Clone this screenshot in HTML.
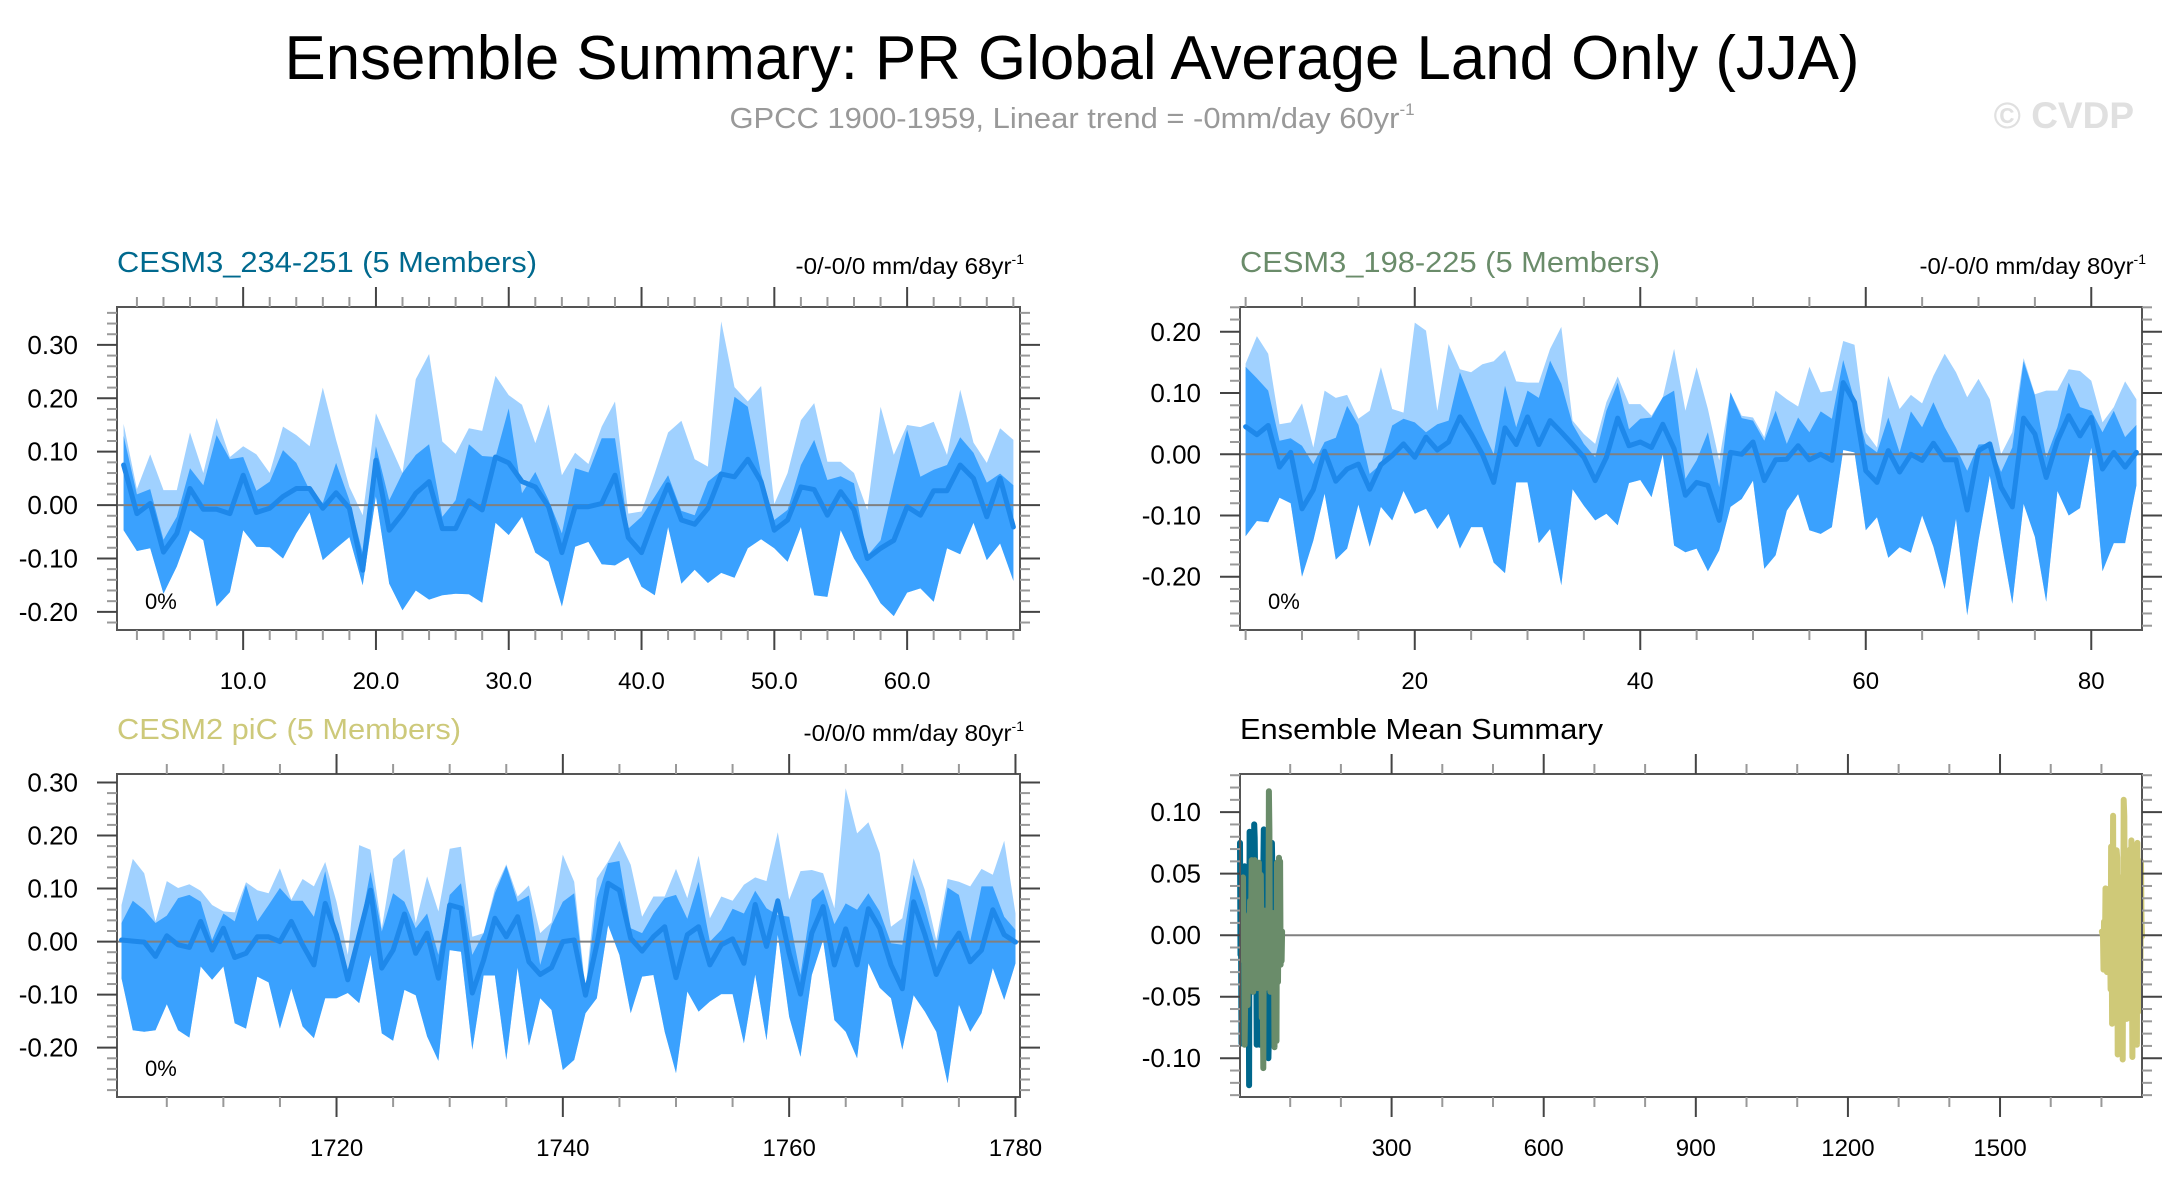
<!DOCTYPE html>
<html><head><meta charset="utf-8"><title>Ensemble Summary</title>
<style>html,body{margin:0;padding:0;background:#fff}svg{display:block}text{font-family:"Liberation Sans",Arial,sans-serif}</style>
</head><body>
<svg id="chart" xmlns="http://www.w3.org/2000/svg" width="2184" height="1189" viewBox="0 0 2184 1189">
<rect x="0" y="0" width="2184" height="1189" fill="#fff"/>
<text x="1072" y="79" font-size="62" text-anchor="middle" textLength="1575" lengthAdjust="spacingAndGlyphs" fill="#000">Ensemble Summary: PR Global Average Land Only (JJA)</text>
<text x="1072" y="128" font-size="29" text-anchor="middle" fill="#999"><tspan textLength="670" lengthAdjust="spacingAndGlyphs">GPCC 1900-1959, Linear trend = -0mm/day 60yr</tspan><tspan font-size="17" dy="-13">-1</tspan></text>
<text x="2134" y="128" font-size="37" font-weight="bold" text-anchor="end" fill="#e0e0e0">© CVDP</text>
<g id="plots"></g>
</svg>
<script>
// ---- Panel 1: CESM3_234-251 (x = 1..68) ----
const p1Mean=[.075,-.016,.003,-.088,-.053,.031,-.008,-.008,-.016,.056,-.014,-.006,.016,.031,.031,-.006,.023,-.006,-.122,.084,-.047,-.016,.022,.044,-.044,-.044,.008,-.009,.09,.079,.044,.034,-.003,-.089,-.003,-.003,.003,.056,-.061,-.089,-.022,.038,-.028,-.036,-.006,.058,.053,.086,.044,-.047,-.028,.034,.029,-.019,.025,-.009,-.1,-.081,-.066,-.003,-.019,.027,.027,.075,.05,-.022,.05,-.041];
const p1Hi=[.152,.03,.095,.028,.028,.136,.06,.163,.09,.11,.095,.06,.147,.131,.11,.22,.122,.034,-.019,.172,.116,.06,.236,.283,.119,.096,.144,.139,.242,.206,.188,.116,.189,.056,.098,.077,.147,.194,-.016,-.012,.06,.136,.158,.086,.072,.344,.221,.194,.223,.002,.06,.159,.191,.081,.081,.06,-.009,.184,.094,.15,.146,.156,.094,.216,.117,.079,.144,.122];
const p1Hi2=[.13,.02,.03,-.065,-.022,.069,.037,.131,.086,.09,.027,.044,.103,.079,.028,.004,.079,.009,-.09,.11,.009,.06,.094,.114,-.022,.009,.114,.092,.09,.181,.022,.062,.009,-.053,.069,.061,.125,.125,-.044,-.022,.016,.056,-.011,-.019,.044,.064,.203,.184,.059,-.028,-.009,.075,.122,.047,.054,.041,-.095,-.066,.041,.141,.053,.066,.075,.127,.098,.042,.059,.037];
const p1Lo=[-.047,-.086,-.081,-.166,-.115,-.047,-.066,-.19,-.163,-.047,-.078,-.079,-.1,-.053,-.014,-.103,-.081,-.06,-.15,.016,-.147,-.197,-.16,-.177,-.169,-.166,-.167,-.183,-.033,-.056,-.022,-.089,-.106,-.19,-.078,-.069,-.111,-.113,-.098,-.153,-.169,-.041,-.147,-.121,-.146,-.127,-.136,-.081,-.064,-.081,-.106,-.041,-.169,-.172,-.047,-.1,-.14,-.184,-.208,-.164,-.156,-.181,-.081,-.092,-.033,-.103,-.072,-.142];
// ---- Panel 2: CESM3_198-225 (x = 5..84) ----
const p2Mean=[.045,.032,.047,-.021,.003,-.089,-.058,.005,-.044,-.024,-.016,-.057,-.017,-.002,.017,-.005,.028,.007,.02,.061,.033,0,-.046,.043,.016,.061,.016,.055,.036,.016,-.005,-.043,-.005,.059,.014,.02,.011,.049,.009,-.067,-.046,-.051,-.108,.003,0,.02,-.043,-.009,-.008,.014,-.009,0,-.01,.117,.085,-.027,-.046,.006,-.029,0,-.01,.018,-.009,-.009,-.091,.006,.017,-.054,-.086,.059,.033,-.038,.022,.063,.03,.06,-.024,.003,-.021,.003];
const p2Hi=[.148,.193,.164,.049,.052,.083,.011,.104,.092,.097,.058,.071,.142,.074,.068,.215,.202,.071,.18,.139,.134,.147,.152,.17,.119,.117,.117,.172,.208,.055,.033,.017,.085,.127,.082,.082,.063,.093,.172,.071,.142,.074,-.01,.101,.063,.06,.028,.104,.09,.078,.143,.101,.104,.185,.179,.036,.011,.128,.074,.097,.083,.128,.164,.134,.093,.123,.09,0,.036,.157,.098,.104,.104,.139,.136,.12,.052,.077,.119,.09];
const p2Hi2=[.143,.124,.104,.022,.026,.014,-.016,.02,.027,.079,.048,-.032,-.016,.047,.058,.052,.036,.049,.055,.134,.088,.041,0,.112,.044,.104,.092,.153,.115,.049,.017,-.005,.071,.117,.041,.058,.06,.093,.104,-.04,-.01,.036,-.054,.101,.059,.055,.022,.071,.017,.06,.036,.07,.058,.154,.088,.017,.003,.06,.003,.07,.044,.085,.044,.011,-.027,.016,.017,-.029,.011,.152,.096,-.005,.044,.117,.077,.071,.036,.071,.028,.048];
const p2Lo=[-.134,-.109,-.111,-.071,-.08,-.2,-.141,-.064,-.172,-.154,-.082,-.151,-.086,-.108,-.06,-.097,-.089,-.122,-.097,-.154,-.119,-.119,-.177,-.194,-.046,-.046,-.145,-.122,-.214,-.057,-.084,-.108,-.097,-.116,-.047,-.042,-.07,0,-.149,-.16,-.154,-.191,-.157,-.086,-.073,-.043,-.187,-.165,-.092,-.065,-.124,-.13,-.119,.007,.003,-.124,-.103,-.169,-.152,-.161,-.1,-.151,-.22,-.105,-.263,-.141,-.035,-.141,-.244,-.081,-.135,-.241,-.06,-.1,-.088,.011,-.191,-.145,-.145,-.051];
// ---- Panel 3: CESM2 piC (x = 1701..1780) ----
const p3Mean=[.003,.001,-.001,-.028,.011,-.006,-.011,.038,-.016,.025,-.03,-.022,.009,.009,0,.038,-.006,-.044,.072,.013,-.072,.013,.097,-.05,-.016,.052,-.022,.016,-.069,.069,.063,-.097,-.035,.044,.009,.047,-.038,-.062,-.049,0,.003,-.101,-.006,.11,.097,.006,-.018,.009,.028,-.068,.013,.028,-.044,-.006,.005,-.041,.07,-.009,.077,-.022,-.099,.016,.066,-.044,.024,-.044,.062,.025,-.044,-.089,.075,.013,-.062,-.016,.016,-.038,-.016,.06,.013,-.001];
const p3Hi=[.069,.156,.129,.038,.114,.101,.108,.096,.069,.057,.055,.112,.097,.091,.138,.079,.118,.104,.15,.075,-.025,.182,.173,.025,.156,.175,.035,.123,.057,.175,.179,.009,.016,.099,.146,.085,.106,.016,.036,.164,.113,-.09,.119,.151,.19,.145,.047,.085,.085,.137,.082,.162,.044,.085,.077,.107,.121,.114,.206,.079,.133,.135,.129,.063,.289,.204,.225,.167,.028,.044,.157,.097,.003,.118,.113,.104,.137,.126,.19,.053];
const p3Hi2=[.035,.077,.06,.035,.049,.082,.088,.075,.003,.053,.038,.107,.038,.069,.101,.077,.077,.047,.133,.016,-.057,.019,.132,.019,.091,.075,.025,.053,-.025,.088,.11,-.025,.016,.091,.143,.075,.087,-.044,.031,.075,.091,-.095,.082,.148,.152,.025,.016,.053,.082,.088,.043,.113,0,.022,.062,.053,.096,.063,.05,.047,-.063,.079,.099,.033,.072,.06,.091,.057,-.003,-.006,.126,.063,-.016,.102,.088,0,.104,.104,.047,.022];
const p3Lo=[-.069,-.167,-.17,-.167,-.118,-.167,-.181,-.047,-.072,-.047,-.154,-.164,-.066,-.077,-.164,-.089,-.16,-.182,-.107,-.107,-.097,-.116,-.025,-.173,-.187,-.091,-.101,-.179,-.225,-.016,-.019,-.204,-.064,-.064,-.223,-.049,-.196,-.107,-.129,-.242,-.223,-.135,-.107,.031,-.025,-.135,-.066,-.063,-.17,-.248,-.094,-.132,-.113,-.099,-.099,-.192,-.062,-.186,.013,-.142,-.217,-.063,.003,-.148,-.17,-.22,-.041,-.087,-.107,-.204,-.101,-.132,-.17,-.267,-.119,-.17,-.135,-.05,-.11,-.041];
// ---- Tick labels ----
const p1XTicks=[10,20,30,40,50,60];
const p1XLabels=["10.0","20.0","30.0","40.0","50.0","60.0"];
const p1YTicks=[-0.2,-0.1,0,0.1,0.2,0.3];
const p1YLabels=["-0.20","-0.10","0.00","0.10","0.20","0.30"];
const p2XTicks=[20,40,60,80];
const p2XLabels=["20","40","60","80"];
const p2YTicks=[-0.2,-0.1,0,0.1,0.2];
const p2YLabels=["-0.20","-0.10","0.00","0.10","0.20"];
const p3XTicks=[1720,1740,1760,1780];
const p3XLabels=["1720","1740","1760","1780"];
const p3YTicks=[-0.2,-0.1,0,0.1,0.2,0.3];
const p3YLabels=["-0.20","-0.10","0.00","0.10","0.20","0.30"];
const p4XTicks=[300,600,900,1200,1500];
const p4XLabels=["300","600","900","1200","1500"];
const p4YTicks=[-0.1,-0.05,0,0.05,0.1];
const p4YLabels=["-0.10","-0.05","0.00","0.05","0.10"];

const NS="http://www.w3.org/2000/svg";
const root=document.getElementById('plots');
function mk(tag,attrs,parent){const e=document.createElementNS(NS,tag);for(const k in attrs)e.setAttribute(k,attrs[k]);(parent||root).appendChild(e);return e;}
function scale(d0,d1,r0,r1){return v=>r0+(v-d0)/(d1-d0)*(r1-r0);}
function range(a,b,s){const o=[];for(let v=a;v<=b+1e-9;v+=s)o.push(Math.round(v*1e6)/1e6);return o;}

function panel(cfg){
  const g=mk('g',{});
  
  
  const L=cfg.box[0],T=cfg.box[1],R=cfg.box[2],B=cfg.box[3];
  const xs=scale(cfg.xd[0],cfg.xd[1],L,R), ys=scale(cfg.yd[0],cfg.yd[1],B,T);
  const plot=mk('g',{},g);
  
  
  if(cfg.bands){
    const xsArr=cfg.x;
    function poly(top,bot,fill,nm){
      let pts=xsArr.map((x,i)=>xs(x).toFixed(1)+','+ys(top[i]).toFixed(1));
      for(let i=xsArr.length-1;i>=0;i--)pts.push(xs(xsArr[i]).toFixed(1)+','+ys(bot[i]).toFixed(1));
      const p=mk('polygon',{points:pts.join(' '),fill:fill},plot);
      
      
    }
    poly(cfg.hi,cfg.lo,'#a0d1ff','range-band-light');
    poly(cfg.hi2,cfg.lo,'#3aa1fe','range-band-dark');
  }
  const zl=mk('line',{x1:L,x2:R,y1:ys(0),y2:ys(0),stroke:'#808080','stroke-width':2},plot);
  
  
  cfg.lines.forEach(ln=>{
    const pts=ln.x.map((x,i)=>xs(x).toFixed(1)+','+ys(ln.y[i]).toFixed(1)).join(' ');
    const p=mk('polyline',{points:pts,fill:'none',stroke:ln.color,'stroke-width':ln.w,'stroke-linejoin':'round','stroke-linecap':'round'},plot);
    
    
  });
  const fr=mk('rect',{x:L,y:T,width:R-L,height:B-T,fill:'none',stroke:'#555','stroke-width':2},g);
  
  
  const tk=mk('g',{},g);
  
  
  range(cfg.xMinor[0],cfg.xMinor[1],cfg.xMinor[2]).forEach(v=>{
    if(v<cfg.xd[0]||v>cfg.xd[1])return;
    const maj=cfg.xt.some(t=>Math.abs(t-v)<1e-6), len=maj?20:10, c=maj?'#444':'#999';
    mk('line',{x1:xs(v),x2:xs(v),y1:T,y2:T-len,stroke:c,'stroke-width':2},tk);
    mk('line',{x1:xs(v),x2:xs(v),y1:B,y2:B+len,stroke:c,'stroke-width':2},tk);
  });
  range(cfg.yMinor[0],cfg.yMinor[1],cfg.yMinor[2]).forEach(v=>{
    if(v<cfg.yd[0]||v>cfg.yd[1])return;
    const maj=cfg.yt.some(t=>Math.abs(t-v)<1e-6), len=maj?20:10, c=maj?'#444':'#999';
    mk('line',{x1:L,x2:L-len,y1:ys(v),y2:ys(v),stroke:c,'stroke-width':2},tk);
    mk('line',{x1:R,x2:R+len,y1:ys(v),y2:ys(v),stroke:c,'stroke-width':2},tk);
  });
  cfg.xt.forEach((v,i)=>{
    const t=mk('text',{x:xs(v),y:B+59,'font-size':24,'text-anchor':'middle',fill:'#000'},g);
    t.textContent=cfg.xl[i];
    
    
  });
  cfg.yt.forEach((v,i)=>{
    const t=mk('text',{x:L-39,y:ys(v)+9,'font-size':26,'text-anchor':'end',fill:'#000'},g);
    t.textContent=cfg.yl[i];
    
    
  });
  const ti=mk('text',{x:L,y:T-35,'font-size':29,fill:cfg.tcolor,textLength:cfg.tlen,lengthAdjust:'spacingAndGlyphs'},g);
  ti.textContent=cfg.title;
  
  
  if(cfg.trend){
    const tr=mk('text',{x:R+4,y:T-33,'font-size':23,'text-anchor':'end',fill:'#000'},g);
    
    
    const a=mk('tspan',{textLength:cfg.trlen,lengthAdjust:'spacingAndGlyphs'},tr);a.textContent=cfg.trend;
    const b=mk('tspan',{'font-size':14,dy:-10},tr);b.textContent='-1';
  }
  if(cfg.pct){
    const p=mk('text',{x:L+28,y:B-21,'font-size':22,fill:'#000'},g);
    p.textContent='0%';
    
    
  }
}
const x1=p1Mean.map((_,i)=>i+1);
const x2=p2Mean.map((_,i)=>i+5);
const x3=p3Mean.map((_,i)=>i+1701);
const meanCol='#1e88ea';
panel({name:'panel-cesm3-234-251',box:[117,307,1020,630],xd:[0.5,68.5],yd:[-0.234,0.371],x:x1,bands:true,hi:p1Hi,hi2:p1Hi2,lo:p1Lo,
  lines:[{x:x1,y:p1Mean,color:meanCol,w:5,name:'ensemble-mean-line'}],xt:p1XTicks,xl:p1XLabels,yt:p1YTicks,yl:p1YLabels,
  xMinor:[2,68,2],yMinor:[-0.22,0.36,0.02],title:'CESM3_234-251 (5 Members)',tcolor:'#00698e',tlen:420,trend:'-0/-0/0 mm/day 68yr',trlen:216,pct:true});
panel({name:'panel-cesm3-198-225',box:[1240,307,2142,630],xd:[4.5,84.5],yd:[-0.287,0.2405],x:x2,bands:true,hi:p2Hi,hi2:p2Hi2,lo:p2Lo,
  lines:[{x:x2,y:p2Mean,color:meanCol,w:5,name:'ensemble-mean-line'}],xt:p2XTicks,xl:p2XLabels,yt:p2YTicks,yl:p2YLabels,
  xMinor:[5,80,5],yMinor:[-0.28,0.24,0.02],title:'CESM3_198-225 (5 Members)',tcolor:'#6a8c6a',tlen:420,trend:'-0/-0/0 mm/day 80yr',trlen:214,pct:true});
panel({name:'panel-cesm2-pic',box:[117,774,1020,1097],xd:[1700.6,1780.4],yd:[-0.293,0.316],x:x3,bands:true,hi:p3Hi,hi2:p3Hi2,lo:p3Lo,
  lines:[{x:x3,y:p3Mean,color:meanCol,w:5,name:'ensemble-mean-line'}],xt:p3XTicks,xl:p3XLabels,yt:p3YTicks,yl:p3YLabels,
  xMinor:[1705,1780,5],yMinor:[-0.28,0.30,0.02],title:'CESM2 piC (5 Members)',tcolor:'#cdc97a',tlen:344,trend:'-0/0/0 mm/day 80yr',trlen:208,pct:true});
panel({name:'panel-ensemble-mean-summary',box:[1240,774,2142,1097],xd:[1,1780],yd:[-0.1315,0.131],bands:false,
  lines:[{x:x1,y:p1Mean,color:'#00678c',w:6,name:'cesm3-234-251-mean-line'},{x:x2,y:p2Mean,color:'#6a8c6a',w:6,name:'cesm3-198-225-mean-line'},{x:x3,y:p3Mean,color:'#cfc978',w:6,name:'cesm2-pic-mean-line'}],
  xt:p4XTicks,xl:p4XLabels,yt:p4YTicks,yl:p4YLabels,xMinor:[100,1700,100],yMinor:[-0.13,0.13,0.01],title:'Ensemble Mean Summary',tcolor:'#000',tlen:363,trend:null,pct:false});
</script>
</body></html>
